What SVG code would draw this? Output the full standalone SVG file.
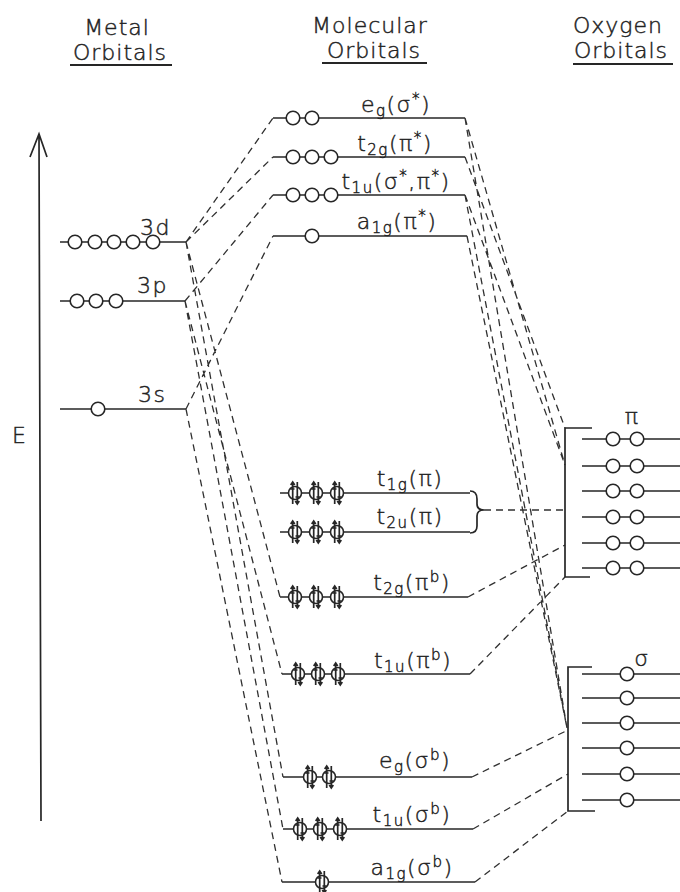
<svg xmlns="http://www.w3.org/2000/svg" width="680" height="892" viewBox="0 0 680 892">
<style>
text{font-family:"DejaVu Sans","Liberation Sans",sans-serif;font-weight:200;fill:#222;stroke:#222;stroke-width:0.45}
.hd{font-size:22px;letter-spacing:1px;text-anchor:middle}
.lb{font-size:22px;letter-spacing:1.5px;text-anchor:middle}
.ml{font-size:22px;letter-spacing:1.5px}
.lv{stroke:#262626;stroke-width:1.7;fill:none}
.ul{stroke:#262626;stroke-width:1.8;fill:none}
.dash{stroke:#303030;stroke-width:1.3;fill:none;stroke-dasharray:7 5}
.orb{fill:#fff;stroke:#262626;stroke-width:1.6}
</style>
<defs>
<circle id="o" r="6.8" class="orb"/>
<g id="pr">
<circle r="6.5" class="orb"/>
<path d="M-2.3,-11V11M2.3,-11V11M-4.3,-8L-2.3,-11L-0.3,-8M0.3,8L2.3,11L4.3,8M-4.5,-4H-0.5M0.5,4H4.5" class="lv" stroke-width="1.1"/>
</g>
</defs>
<rect width="680" height="892" fill="#fff"/>

<g id="headers">
<text class="hd" x="117" y="35">Metal</text>
<text class="hd" x="120" y="60">Orbitals</text>
<path class="ul" d="M70,65H172"/>
<text class="hd" x="370" y="33">Molecular</text>
<text class="hd" x="374" y="58">Orbitals</text>
<path class="ul" d="M322,63H427"/>
<text class="hd" x="618" y="33">Oxygen</text>
<text class="hd" x="621" y="58">Orbitals</text>
<path class="ul" d="M573,64H673"/>
</g>

<g id="energy-axis">
<path class="lv" d="M39,135L41,821M30,157L39,134L47,157"/>
<text class="ml" x="12" y="443">E</text>
</g>

<g id="connectors">
<path class="dash" d="M186,242L273,118M186,242L273,157M185,301L273,195M186,409L273,236M186,242L280,597M186,242L283,777M185,301L282,674M185,301L283,829M186,409L282,882"/>
<path class="dash" d="M465,118L567,728M465,118L565,465M465,157L565,428M465,195L565,465M465,195L567,728M467,236L567,728M484,510L565,510M468,597L565,545M470,674L565,577M472,777L568,730M473,829L568,774M475,882L568,811"/>
</g>

<g id="metal-3d">
<path class="lv" d="M60,242H186"/>
<use href="#o" x="75" y="242"/><use href="#o" x="95" y="242"/><use href="#o" x="114" y="242"/><use href="#o" x="133" y="242"/><use href="#o" x="153" y="242"/>
<text class="ml" x="140" y="235">3d</text>
</g>
<g id="metal-3p">
<path class="lv" d="M60,301H185"/>
<use href="#o" x="77" y="301"/><use href="#o" x="96" y="301"/><use href="#o" x="116" y="301"/>
<text class="ml" x="137" y="293">3p</text>
</g>
<g id="metal-3s">
<path class="lv" d="M60,409H186"/>
<use href="#o" x="98" y="409"/>
<text class="ml" x="138" y="402">3s</text>
</g>

<g id="mo-eg-star">
<path class="lv" d="M273,118H465"/>
<use href="#o" x="293" y="118"/><use href="#o" x="312" y="118"/>
<text class="lb" x="396" y="112">e<tspan font-size="15" dy="4">g</tspan><tspan dy="-4">(σ</tspan><tspan font-size="15" dy="-8">*</tspan><tspan dy="8">)</tspan></text>
</g>
<g id="mo-t2g-star">
<path class="lv" d="M273,157H465"/>
<use href="#o" x="293" y="157"/><use href="#o" x="312" y="157"/><use href="#o" x="331" y="157"/>
<text class="lb" x="395" y="151">t<tspan font-size="15" dy="4">2g</tspan><tspan dy="-4">(π</tspan><tspan font-size="15" dy="-8">*</tspan><tspan dy="8">)</tspan></text>
</g>
<g id="mo-t1u-star">
<path class="lv" d="M273,195H465"/>
<use href="#o" x="293" y="195"/><use href="#o" x="312" y="195"/><use href="#o" x="331" y="195"/>
<text class="lb" x="396" y="189" letter-spacing="0.5">t<tspan font-size="15" dy="4">1u</tspan><tspan dy="-4">(σ</tspan><tspan font-size="15" dy="-8">*</tspan><tspan dy="8">,π</tspan><tspan font-size="15" dy="-8">*</tspan><tspan dy="8">)</tspan></text>
</g>
<g id="mo-a1g-star">
<path class="lv" d="M273,236H467"/>
<use href="#o" x="312" y="236"/>
<text class="lb" x="397" y="229">a<tspan font-size="15" dy="4">1g</tspan><tspan dy="-4">(π</tspan><tspan font-size="15" dy="-8">*</tspan><tspan dy="8">)</tspan></text>
</g>

<g id="mo-t1g">
<path class="lv" d="M280,493H470"/>
<use href="#pr" x="295" y="493"/><use href="#pr" x="316" y="493"/><use href="#pr" x="337" y="493"/>
<text class="lb" x="410" y="486">t<tspan font-size="15" dy="4">1g</tspan><tspan dy="-4">(π)</tspan></text>
</g>
<g id="mo-t2u">
<path class="lv" d="M280,532H470"/>
<use href="#pr" x="295" y="532"/><use href="#pr" x="316" y="532"/><use href="#pr" x="337" y="532"/>
<text class="lb" x="410" y="524">t<tspan font-size="15" dy="4">2u</tspan><tspan dy="-4">(π)</tspan></text>
</g>
<g id="brace">
<path class="lv" d="M470,491Q477,491 477,499V504Q477,510 484,510Q477,510 477,516V526Q477,533 470,533"/>
</g>
<g id="mo-t2g-b">
<path class="lv" d="M280,597H468"/>
<use href="#pr" x="295" y="597"/><use href="#pr" x="316" y="597"/><use href="#pr" x="337" y="597"/>
<text class="lb" x="412" y="590">t<tspan font-size="15" dy="4">2g</tspan><tspan dy="-4">(π</tspan><tspan font-size="15" dy="-8">b</tspan><tspan dy="8">)</tspan></text>
</g>
<g id="mo-t1u-pib">
<path class="lv" d="M282,674H470"/>
<use href="#pr" x="298" y="674"/><use href="#pr" x="318" y="674"/><use href="#pr" x="338" y="674"/>
<text class="lb" x="413" y="668">t<tspan font-size="15" dy="4">1u</tspan><tspan dy="-4">(π</tspan><tspan font-size="15" dy="-8">b</tspan><tspan dy="8">)</tspan></text>
</g>
<g id="mo-eg-b">
<path class="lv" d="M283,777H472"/>
<use href="#pr" x="310" y="777"/><use href="#pr" x="329" y="777"/>
<text class="lb" x="415" y="768">e<tspan font-size="15" dy="4">g</tspan><tspan dy="-4">(σ</tspan><tspan font-size="15" dy="-8">b</tspan><tspan dy="8">)</tspan></text>
</g>
<g id="mo-t1u-sigb">
<path class="lv" d="M283,829H473"/>
<use href="#pr" x="300" y="829"/><use href="#pr" x="320" y="829"/><use href="#pr" x="340" y="829"/>
<text class="lb" x="412" y="822">t<tspan font-size="15" dy="4">1u</tspan><tspan dy="-4">(σ</tspan><tspan font-size="15" dy="-8">b</tspan><tspan dy="8">)</tspan></text>
</g>
<g id="mo-a1g-b">
<path class="lv" d="M282,882H475"/>
<use href="#pr" x="322" y="882"/>
<text class="lb" x="412" y="875">a<tspan font-size="15" dy="4">1g</tspan><tspan dy="-4">(σ</tspan><tspan font-size="15" dy="-8">b</tspan><tspan dy="8">)</tspan></text>
</g>

<g id="oxygen-pi">
<path class="lv" d="M592,428H565V577H590"/>
<path class="lv" d="M582,439H680M582,466H680M582,491H680M582,517H680M582,543H680M582,568H680"/>
<use href="#o" x="613" y="439"/><use href="#o" x="637" y="439"/>
<use href="#o" x="613" y="466"/><use href="#o" x="637" y="466"/>
<use href="#o" x="613" y="491"/><use href="#o" x="637" y="491"/>
<use href="#o" x="613" y="517"/><use href="#o" x="637" y="517"/>
<use href="#o" x="613" y="543"/><use href="#o" x="637" y="543"/>
<use href="#o" x="613" y="568"/><use href="#o" x="637" y="568"/>
<text class="lb" x="632" y="424">π</text>
</g>
<g id="oxygen-sigma">
<path class="lv" d="M592,667H568V811H595"/>
<path class="lv" d="M582,674H680M582,698H680M582,723H680M582,748H680M582,774H680M582,800H680"/>
<use href="#o" x="627" y="674"/><use href="#o" x="627" y="698"/><use href="#o" x="627" y="723"/><use href="#o" x="627" y="748"/><use href="#o" x="627" y="774"/><use href="#o" x="627" y="800"/>
<text class="lb" x="642" y="666">σ</text>
</g>
</svg>
